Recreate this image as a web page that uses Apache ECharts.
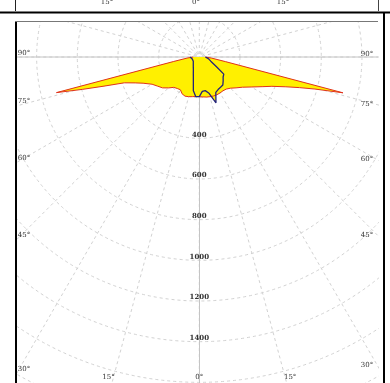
<!DOCTYPE html>
<html>
<head>
<meta charset="utf-8">
<script src="https://cdn.jsdelivr.net/npm/echarts@6/dist/echarts.min.js"></script>
<style>
  html, body { margin: 0; padding: 0; background: #fff; }
  #chart { width: 390px; height: 383px; }
</style>
</head>
<body>
<div id="chart"></div>
<script>
// Luminous intensity distribution, polar diagram (cd/klm)
// Gamma angles in degrees from nadir
const gammaLong = [0, 5, 10, 15, 20, 25, 30, 35, 40, 45, 50, 55, 60, 65, 68, 71, 73, 74.5, 76, 80, 85, 90];
// C0 (right half) and C180 (left half) of the longitudinal plane
const planeC0   = [195, 197, 200, 202, 204, 205, 204, 203, 206, 217, 236, 259, 295, 345, 385, 450, 515, 590, 728, 130, 60, 30];
const planeC180 = [195, 195, 198, 202, 205, 200, 186, 189, 195, 215, 236, 250, 268, 305, 340, 390, 490, 595, 724, 130, 60, 30];

const gammaTrans = [0, 5, 10, 15, 20, 25, 30, 35, 40, 45, 50, 55, 60, 65, 70, 75, 80, 85, 90];
// C90 (right half) and C270 (left half) of the transverse plane
const planeC90  = [195, 170, 168, 185, 240, 192, 185, 182, 180, 166, 153, 147, 99, 75, 60, 51, 45, 40, 30];
const planeC270 = [195, 196, 168, 113, 86, 69, 59, 51, 46, 41, 38, 36, 34, 33, 35, 36, 39, 42, 45];

// Axis labels
const radiusLabels = [400, 600, 800, 1000, 1200, 1400];
const sideAngles = [90, 75, 60, 45, 30];
const bottomAngles = [-15, 0, 15];
const stripLabels = ['15°', '0°', '15°'];

// Layout
const CX = 199.3, CY = 57;          // pole of the diagram
const R_MAX = 1800, R_PX = 366;     // outer radius value and its pixel radius
const BOX = { left: 16, top: 21, right: 378, bottom: 383 };
const LABEL_FONT = 'DejaVu Serif';

// Build a closed half-plane pair: left half mirrored to 360 - gamma
function planePoints(gammas, rightVals, leftVals) {
  const pts = [];
  for (let i = gammas.length - 1; i >= 0; i--) pts.push([leftVals[i], 360 - gammas[i]]);
  for (let i = 0; i < gammas.length; i++) pts.push([rightVals[i], gammas[i]]);
  return pts;
}
const longData = planePoints(gammaLong, planeC0, planeC180);
const transData = planePoints(gammaTrans, planeC90, planeC270);

const FILL = '#fff000';
const gridStyle = { color: '#d2d2d2', width: 1, type: [3, 3] };

function fillSeries(data) {
  return {
    type: 'line', coordinateSystem: 'polar', data, symbol: 'none', silent: true,
    lineStyle: { opacity: 0 }, areaStyle: { color: FILL, opacity: 1 }, z: 2
  };
}
function outlineSeries(data, color, width) {
  return {
    type: 'line', coordinateSystem: 'polar', data, symbol: 'none', silent: true,
    lineStyle: { color, width }, z: 3
  };
}

// Frame, masks and angle labels
const graphics = [];
// white masks outside the plotting box
graphics.push({ type: 'rect', shape: { x: 0, y: 0, width: 390, height: BOX.top }, style: { fill: '#fff' }, z: 100 });
graphics.push({ type: 'rect', shape: { x: 0, y: 0, width: BOX.left - 1, height: 383 }, style: { fill: '#fff' }, z: 100 });
graphics.push({ type: 'rect', shape: { x: BOX.right + 1, y: 0, width: 20, height: 383 }, style: { fill: '#fff' }, z: 100 });

// solid horizontal line through the pole (90° - 270°)
graphics.push({ type: 'line', shape: { x1: BOX.left, y1: CY, x2: BOX.right, y2: CY }, style: { stroke: '#c4c4c4', lineWidth: 1 }, z: 1 });

// frame lines
const frameLines = [
  [15.5, 0, 15.5, 11, '#222', 1],
  [378.5, 0, 378.5, 11, '#444', 1],
  [0, 12.5, 390, 12.5, '#000', 2],
  [384, 12, 384, 383, '#000', 2],
  [16, BOX.top, 16, 383, '#000', 2],
  [15, BOX.top + 0.5, BOX.right, BOX.top + 0.5, '#777', 1]
];
frameLines.forEach(([x1, y1, x2, y2, c, w]) => {
  graphics.push({ type: 'line', shape: { x1, y1, x2, y2 }, style: { stroke: c, lineWidth: w }, z: 101 });
});

function label(text, x, y) {
  return {
    type: 'text', z: 102, x, y,
    style: { text, font: '7px "' + LABEL_FONT + '"', fill: '#333', align: 'center', verticalAlign: 'middle' }
  };
}

// labels of the strip above
const stripX = [107, 196, 283];
stripLabels.forEach((t, i) => graphics.push(label(t, stripX[i], 2.5)));

// side labels where each radial line meets the box edges
sideAngles.forEach(g => {
  const t = Math.tan(g * Math.PI / 180);
  const yl = g === 90 ? CY - 4 : CY + (CX - BOX.left) / t - 5;
  const yr = g === 90 ? CY - 3 : CY + (BOX.right - CX) / t - 1;
  graphics.push(label(g + '°', BOX.left + 8, yl));
  graphics.push(label(g + '°', BOX.right - 11, yr));
});
bottomAngles.forEach(g => {
  const t = Math.tan(g * Math.PI / 180);
  const xb = CX + (BOX.bottom - CY) * t + Math.sign(g) * 3.5;
  graphics.push(label(Math.abs(g) + '°', xb, BOX.bottom - 6));
});

const chart = echarts.init(document.getElementById('chart'), null, { renderer: 'canvas' });
chart.setOption({
  animation: false,
  backgroundColor: '#fff',
  polar: { center: [CX, CY], radius: R_PX },
  angleAxis: {
    type: 'value', min: 0, max: 360, interval: 15, startAngle: 270, clockwise: false,
    axisLine: { show: false }, axisTick: { show: false }, axisLabel: { show: false },
    splitLine: { show: true, lineStyle: gridStyle }
  },
  radiusAxis: {
    type: 'value', min: 0, max: R_MAX, interval: 200,
    axisLine: { show: true, lineStyle: { color: '#c4c4c4', width: 1 } },
    axisTick: { show: false },
    axisLabel: {
      show: true, margin: 0, fontSize: 7, fontFamily: LABEL_FONT, fontWeight: 'bold', color: '#333',
      align: 'center', verticalAlign: 'bottom',
      formatter: v => radiusLabels.indexOf(v) >= 0 ? String(v) : ''
    },
    splitLine: { show: true, lineStyle: gridStyle }
  },
  graphic: { elements: graphics },
  series: [
    fillSeries(longData),
    fillSeries(transData),
    outlineSeries(longData, '#e0321c', 1),
    outlineSeries(transData, '#23237a', 1.3)
  ]
});
</script>
</body>
</html>
